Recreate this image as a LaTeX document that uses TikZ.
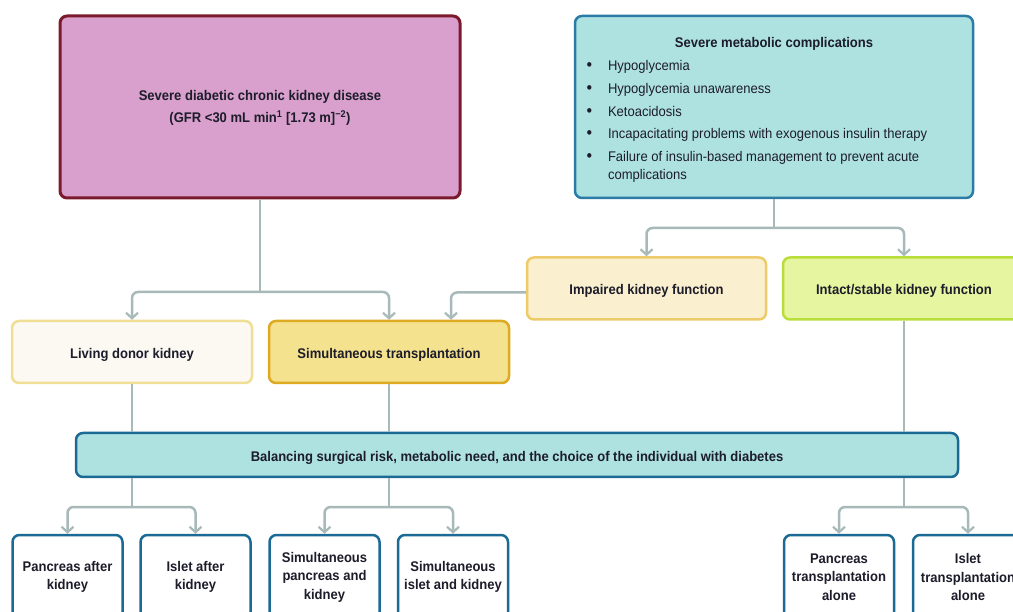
\documentclass[tikz,border=0pt]{standalone}
\usepackage{fontspec}
\setmainfont{Liberation Sans}[FakeStretch=0.93]
\usetikzlibrary{arrows.meta,calc}
\definecolor{txt}{HTML}{1C1C2A}
\definecolor{pinkfill}{HTML}{D9A0CD}
\definecolor{pinkdraw}{HTML}{7B1A2C}
\definecolor{tealfill}{HTML}{AEE2E0}
\definecolor{tealdraw}{HTML}{2C7BA6}
\definecolor{baldraw}{HTML}{1B6A95}
\definecolor{impfill}{HTML}{FAEFCF}
\definecolor{impdraw}{HTML}{EDCB6A}
\definecolor{intfill}{HTML}{E6F5A0}
\definecolor{intdraw}{HTML}{B9DE3C}
\definecolor{ldkfill}{HTML}{FBF9F2}
\definecolor{ldkdraw}{HTML}{F1DE95}
\definecolor{simfill}{HTML}{F5E28E}
\definecolor{simdraw}{HTML}{DDAA22}
\definecolor{conn}{HTML}{A8B9B9}
\newcommand\bitem{\par\hangindent=21pt\hangafter=1\noindent\makebox[21pt][l]{\hspace*{-0.5pt}{\fontsize{17}{18}\selectfont\textbullet}}}
\begin{document}
\begin{tikzpicture}[x=1pt,y=-1pt,
  font=\fontsize{14}{18}\selectfont,
  box/.style={draw, rounded corners=7pt, line width=2.5pt, align=center,
    inner sep=0pt, font=\fontsize{14}{18.5}\selectfont\bfseries, text=txt},
  oneline/.style={text height=12.7pt, text depth=0pt},
  outbox/.style={box, fill=white, draw=baldraw, minimum width=110pt, minimum height=84pt},
  line/.style={draw=conn, line width=2.5pt, rounded corners=6pt},
  arr/.style={line, -{Straight Barb[length=5.5pt,width=12pt,line width=2.2pt]}}]
\clip (0,0) rectangle (1013,612);
\fill[white] (0,0) rectangle (1013,612);

\node[box, fill=pinkfill, draw=pinkdraw, line width=3pt, minimum width=400pt, minimum height=182pt,
  font=\fontsize{14}{22}\selectfont\bfseries] (tl) at (260,107)
  {\raisebox{-3pt}{\begin{tabular}{@{}c@{}}Severe diabetic chronic kidney disease\\(GFR <30 mL min\textsuperscript{1} [1.73 m]\textsuperscript{−2})\end{tabular}}};

\node[box, fill=tealfill, draw=tealdraw, minimum width=398pt, minimum height=182pt, font=\fontsize{14}{18}\selectfont] (tr) at (774,107)
  {\begin{minipage}{374pt}\vspace*{6pt}\setlength{\parskip}{4.8pt}%
   {\centering\bfseries Severe metabolic complications\par}%
   \raggedright
   \bitem Hypoglycemia
   \bitem Hypoglycemia unawareness
   \bitem Ketoacidosis
   \bitem Incapacitating problems with exogenous insulin therapy
   \bitem Failure of insulin-based management to prevent acute\hfil\break complications\par
   \end{minipage}};

\node[box, oneline, fill=impfill, draw=impdraw, minimum width=239pt, minimum height=62pt] (imp) at (646.5,288.5) {Impaired kidney function};
\node[box, oneline, fill=intfill, draw=intdraw, minimum width=242pt, minimum height=62pt] (int) at (904,288.5) {Intact/stable kidney function};
\node[box, oneline, fill=ldkfill, draw=ldkdraw, minimum width=240pt, minimum height=62pt] (ldk) at (132,352) {Living donor kidney};
\node[box, oneline, fill=simfill, draw=simdraw, minimum width=240pt, minimum height=62pt] (sim) at (389,352) {Simultaneous transplantation};
\node[box, oneline, fill=tealfill, draw=baldraw, minimum width=882pt, minimum height=44pt] (bal) at (517,455)
  {Balancing surgical risk, metabolic need, and the choice of the individual with diabetes};

\node[outbox] (b1) at (67.5,577) {Pancreas after\\kidney};
\node[outbox] (b2) at (195.5,577) {Islet after\\kidney};
\node[outbox] (b3) at (324.5,577) {Simultaneous\\pancreas and\\kidney};
\node[outbox] (b4) at (453,577) {Simultaneous\\islet and kidney};
\node[outbox] (b5) at (839,577) {Pancreas\\transplantation\\alone};
\node[outbox] (b6) at (968,577) {Islet\\transplantation\\alone};

% connectors
\coordinate (j1) at (260,292);
\draw[line] (tl.south) -- (j1);
\draw[arr] (j1) -| (ldk.north);
\draw[arr] (j1) -| (sim.north);
\draw[arr] ([yshift=-4pt]imp.west) -| ([xshift=62pt]sim.north);

\coordinate (j2) at (774,228);
\draw[line] (tr.south) -- (j2);
\draw[arr] (j2) -| (imp.north);
\draw[arr] (j2) -| (int.north);

\draw[line] (ldk.south) -- (bal.north -| ldk.south);
\draw[line] (sim.south) -- (bal.north -| sim.south);
\draw[line] (int.south) -- (bal.north -| int.south);

\coordinate (j3) at (132,507);
\draw[line] (bal.south -| j3) -- (j3);
\draw[arr] (j3) -| (b1.north);
\draw[arr] (j3) -| (b2.north);

\coordinate (j4) at (389,507);
\draw[line] (bal.south -| j4) -- (j4);
\draw[arr] (j4) -| (b3.north);
\draw[arr] (j4) -| (b4.north);

\coordinate (j5) at (904,507);
\draw[line] (bal.south -| j5) -- (j5);
\draw[arr] (j5) -| (b5.north);
\draw[arr] (j5) -| (b6.north);
\end{tikzpicture}
\end{document}
